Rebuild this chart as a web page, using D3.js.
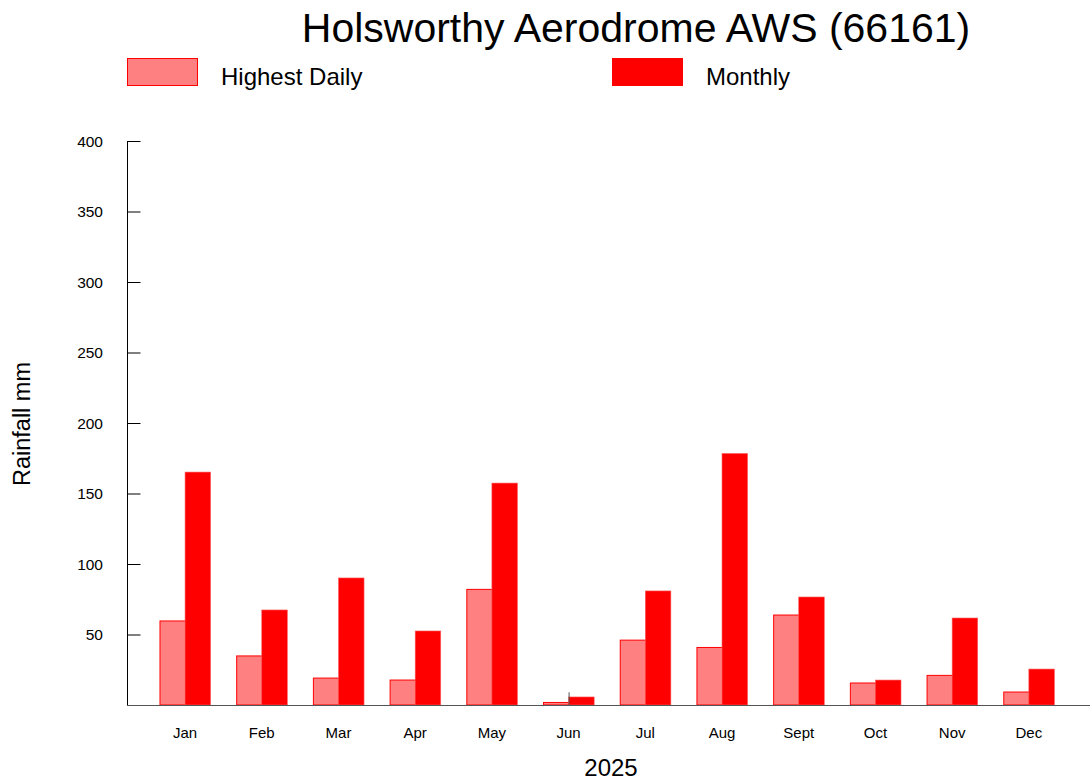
<!DOCTYPE html>
<html>
<head>
<meta charset="utf-8">
<script src="https://cdn.jsdelivr.net/npm/d3@7"></script>
<style>
  body { margin: 0; background: #fff; }
  svg { font-family: "Liberation Sans", Arial, sans-serif; }
</style>
</head>
<body>
<div id="graphic"></div>
<script>
// Pluie mensuelle - Holsworthy Aerodrome AWS

const months = ["Jan", "Feb", "Mar", "Apr", "May", "Jun", "Jul", "Aug", "Sept", "Oct", "Nov", "Dec"];
const highestDaily = [59.6, 34.8, 19.1, 17.7, 82.0, 1.8, 46.0, 40.8, 63.8, 15.6, 21.0, 9.2];
const monthly = [165.2, 67.4, 90.1, 52.5, 157.4, 5.7, 80.9, 178.4, 76.6, 17.7, 61.7, 25.5];
const yTicks = [50, 100, 150, 200, 250, 300, 350, 400];
const markerMonths = ["Jun"];   // petit trait vertical visible sur le graphique
const markerValue = [9];

const W = 1090, H = 780;
const svg = d3.select("#graphic").append("svg")
  .attr("width", W).attr("height", H);

// échelles
const x = d3.scaleBand().domain(months).range([146.7, 1067.2]).paddingInner(0);
const y = d3.scaleLinear().domain([0, 400]).range([705, 141]);
const bw = x.bandwidth() / 3;

// titre
svg.append("text")
  .attr("x", 636).attr("y", 42)
  .attr("text-anchor", "middle")
  .attr("font-size", 41)
  .text("Holsworthy Aerodrome AWS (66161)");

// légende
const legend = [
  { label: "Highest Daily", fill: "#ff8080", sx: 127, tx: 221 },
  { label: "Monthly", fill: "#ff0000", sx: 612, tx: 706 }
];
legend.forEach(function(l){
  svg.append("rect")
    .attr("x", l.sx + 0.5).attr("y", 58.5)
    .attr("width", 70).attr("height", 27)
    .attr("fill", l.fill).attr("stroke", "#ff0000").attr("stroke-width", 1);
  svg.append("text")
    .attr("x", l.tx).attr("y", 85)
    .attr("font-size", 24)
    .text(l.label);
});

// barres journalières maximales
svg.append("g").selectAll("rect")
  .data(highestDaily)
  .enter().append("rect")
    .attr("x", function(d, i){ return x(months[i]) + x.bandwidth() / 2 - bw + 0.5; })
    .attr("y", function(d){ return y(d); })
    .attr("width", bw)
    .attr("height", function(d){ return y(0) - y(d); })
    .attr("fill", "#ff8080")
    .attr("stroke", "#ff0000")
    .attr("stroke-width", 1);

// barres mensuelles
svg.append("g").selectAll("rect")
  .data(monthly)
  .enter().append("rect")
    .attr("x", function(d, i){ return x(months[i]) + x.bandwidth() / 2; })
    .attr("y", function(d){ return y(d); })
    .attr("width", bw)
    .attr("height", function(d){ return y(0) - y(d); })
    .attr("fill", "#ff0000")
    .attr("stroke", "#ff6060")
    .attr("stroke-width", 0.6);

// petit trait (Jun)
svg.append("g").selectAll("line")
  .data(markerValue)
  .enter().append("line")
    .attr("x1", function(d, i){ return x(markerMonths[i]) + x.bandwidth() / 2 + 0.5; })
    .attr("x2", function(d, i){ return x(markerMonths[i]) + x.bandwidth() / 2 + 0.5; })
    .attr("y1", function(d){ return y(d); })
    .attr("y2", y(0))
    .attr("stroke", "#555").attr("stroke-width", 1);

// axe Y
const yAxis = d3.axisRight(y).tickValues(yTicks).tickSize(13).tickFormat("");
const gy = svg.append("g")
  .attr("transform", "translate(127.5,0)")
  .call(yAxis);
gy.select(".domain").attr("d", "M0," + y(400) + "V" + y(0)).attr("stroke", "#000");
gy.selectAll(".tick line").attr("stroke", "#000");

svg.append("g").selectAll("text")
  .data(yTicks)
  .enter().append("text")
    .attr("x", 103).attr("y", function(d){ return y(d) + 5.5; })
    .attr("text-anchor", "end")
    .attr("font-size", 15.5)
    .text(function(d){ return d; });

// axe X
const xAxis = d3.axisBottom(x).tickSize(0).tickPadding(22);
const gx = svg.append("g")
  .attr("transform", "translate(0," + y(0) + ")")
  .call(xAxis);
gx.select(".domain").attr("d", "M127,0.5H1090").attr("stroke", "#555").attr("stroke-width", 1.2);
gx.selectAll(".tick text")
  .attr("font-size", 15)
  .attr("fill", "#000")
  .attr("font-family", "Liberation Sans, Arial, sans-serif");

// titres des axes
svg.append("text")
  .attr("transform", "translate(30,424) rotate(-90)")
  .attr("text-anchor", "middle")
  .attr("font-size", 23.5)
  .text("Rainfall mm");

svg.append("text")
  .attr("x", 611).attr("y", 776)
  .attr("text-anchor", "middle")
  .attr("font-size", 24)
  .text("2025");
</script>
</body>
</html>
